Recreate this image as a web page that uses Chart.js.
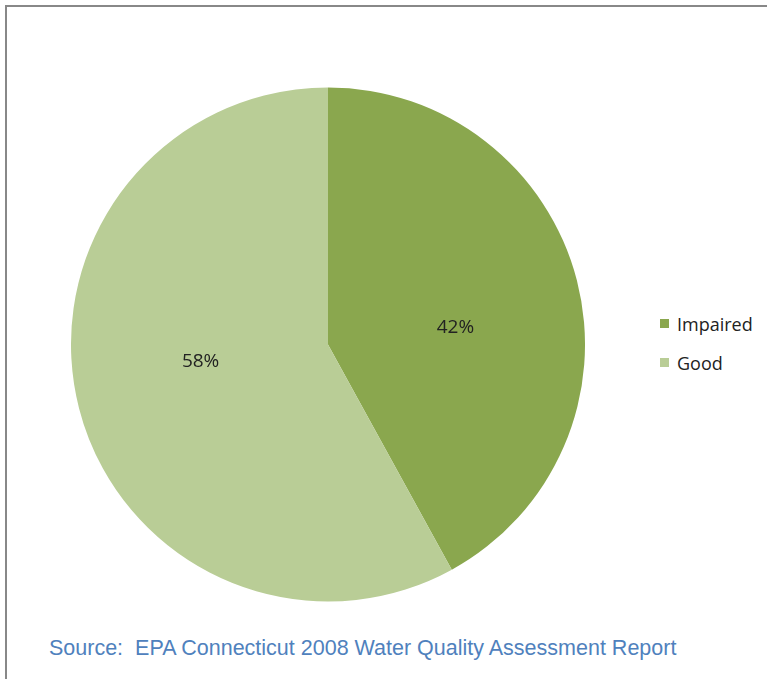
<!DOCTYPE html>
<html><head><meta charset="utf-8">
<script src="https://cdn.jsdelivr.net/npm/chart.js@4/dist/chart.umd.min.js"></script>
<style>
html,body{margin:0;padding:0;background:#fff;width:767px;height:679px;overflow:hidden;}
#frame{position:absolute;left:5px;top:5px;width:770px;height:690px;border-left:2px solid #888;border-top:2px solid #888;box-sizing:border-box;}
#wrap{position:absolute;left:71px;top:87px;width:514px;height:515px;}
#legend{position:absolute;left:660px;top:304px;font-family:"Open Sans","Noto Sans",sans-serif;font-size:18px;color:#222;}
#legend .item{display:flex;align-items:center;height:39px;margin-top:0;}
#legend .sw{width:9px;height:9px;margin-right:8px;}
#source{position:absolute;left:49px;top:636px;font-family:"Liberation Sans",Arial,sans-serif;font-size:21.5px;color:#4F81BD;white-space:nowrap;}
</style></head><body>
<div id="frame"></div>
<div id="wrap"><canvas id="c"></canvas></div>
<div id="legend"></div>
<div id="source">Source:&nbsp; EPA Connecticut 2008 Water Quality Assessment Report</div>
<script>
const categories = ["Impaired", "Good"];
const values = [42, 58];
const colors = ["#8AA74E", "#B9CD96"];

const labelPlugin = {
  id: 'sliceLabels',
  afterDatasetsDraw(chart) {
    const ctx = chart.ctx;
    const meta = chart.getDatasetMeta(0);
    const total = values.reduce((a, b) => a + b, 0);
    ctx.save();
    ctx.font = '19px "Open Sans","Noto Sans",sans-serif';
    ctx.fillStyle = '#222';
    ctx.textAlign = 'center';
    ctx.textBaseline = 'middle';
    meta.data.forEach((arc, i) => {
      const p = arc.getProps(['x', 'y', 'startAngle', 'endAngle', 'outerRadius'], true);
      const mid = (p.startAngle + p.endAngle) / 2 + 0.12;
      const r = p.outerRadius * 0.5;
      ctx.fillText(Math.round(values[i] / total * 100) + '%', p.x + Math.cos(mid) * r, p.y + Math.sin(mid) * r);
    });
    ctx.restore();
  }
};

new Chart(document.getElementById('c'), {
  type: 'pie',
  data: { labels: categories, datasets: [{ data: values, backgroundColor: colors, borderWidth: 0 }] },
  options: {
    responsive: true, maintainAspectRatio: false, animation: false,
    layout: { padding: 0 },
    plugins: { legend: { display: false }, tooltip: { enabled: false } }
  },
  plugins: [labelPlugin]
});

const lg = document.getElementById('legend');
categories.forEach((c, i) => {
  const d = document.createElement('div');
  d.className = 'item';
  d.innerHTML = '<span class="sw" style="background:' + colors[i] + '"></span><span>' + c + '</span>';
  lg.appendChild(d);
});
</script>
</body></html>
